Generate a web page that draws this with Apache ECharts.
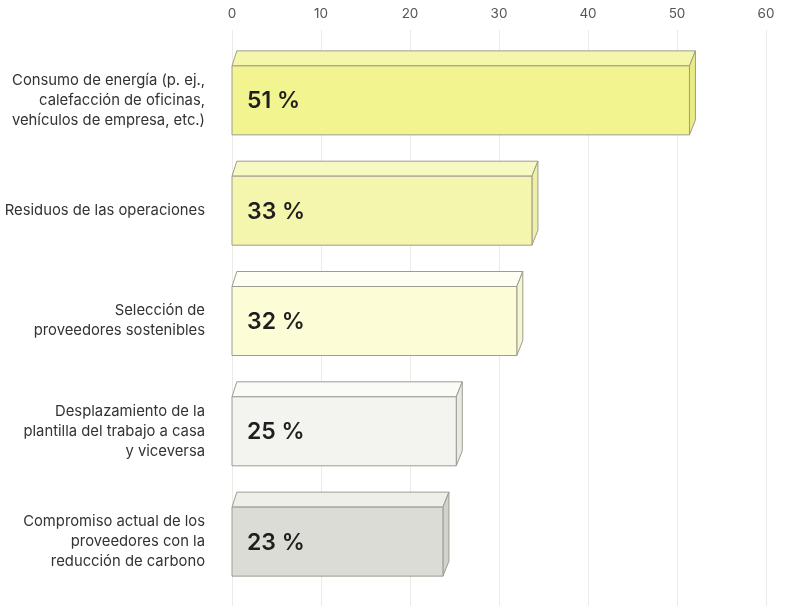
<!DOCTYPE html>
<html>
<head>
<meta charset="utf-8">
<script src="https://cdn.jsdelivr.net/npm/echarts@6/dist/echarts.min.js"></script>
<style>
html,body{margin:0;padding:0;background:#fff;}
#chart{width:804px;height:610px;}
</style>
</head>
<body>
<div id="chart"></div>
<script>
var categories = [
  "Consumo de energía (p. ej.,\ncalefacción de oficinas,\nvehículos de empresa, etc.)",
  "Residuos de las operaciones",
  "Selección de\nproveedores sostenibles",
  "Desplazamiento de la\nplantilla del trabajo a casa\ny viceversa",
  "Compromiso actual de los\nproveedores con la\nreducción de carbono"
];
var values = [51.4, 33.7, 32.0, 25.2, 23.7];
var valueLabels = ["51 %", "33 %", "32 %", "25 %", "23 %"];
var tickValues = [0, 10, 20, 30, 40, 50, 60];

var frontColors = ["#f1f48f", "#f4f6ad", "#fcfdd7", "#f3f3ef", "#dcdcd7"];
var topColors   = ["#f4f7ab", "#f7f9c3", "#fefef3", "#fafaf7", "#efefea"];
var sideColors  = ["#e8eb86", "#eef0a6", "#f6f7d0", "#eaeae5", "#d2d2cc"];

var chart = echarts.init(document.getElementById('chart'));
var BAR_H = 69, DX = 6, DY = -15;
var stroke = '#9c9c92';

function renderItem(params, api) {
  var idx = api.value(0);
  var val = api.value(1);
  var p0 = api.coord([0, idx]);
  var p1 = api.coord([val, idx]);
  var x0 = p0[0], x1 = p1[0], yc = p0[1];
  var yt = yc - BAR_H / 2, yb = yc + BAR_H / 2;
  var i = params.dataIndex;
  return {
    type: 'group',
    children: [
      {
        type: 'polygon',
        shape: {points: [[x0, yt], [x1, yt], [x1 + DX, yt + DY], [x0 + DX * 0.8, yt + DY]]},
        style: {fill: topColors[i], stroke: stroke, lineWidth: 1}
      },
      {
        type: 'polygon',
        shape: {points: [[x1, yt], [x1 + DX, yt + DY], [x1 + DX, yb + DY], [x1, yb]]},
        style: {fill: sideColors[i], stroke: stroke, lineWidth: 1}
      },
      {
        type: 'rect',
        shape: {x: x0, y: yt, width: x1 - x0, height: BAR_H},
        style: {fill: frontColors[i], stroke: stroke, lineWidth: 1}
      },
      {
        type: 'text',
        style: {
          x: x0 + 15, y: yc + 1,
          text: valueLabels[i],
          fill: '#1e1e1e',
          font: '600 23px Inter',
          verticalAlign: 'middle',
          align: 'left'
        }
      }
    ]
  };
}

var option = {
  backgroundColor: '#fff',
  animation: false,
  grid: [
    {left: 232, right: 38, top: 45.2, height: 551.6, containLabel: false},
    {left: 232, right: 38, top: 30, bottom: 4, containLabel: false}
  ],
  xAxis: [
    {gridIndex: 0, type: 'value', min: 0, max: 60, show: false},
    {
      gridIndex: 1, type: 'value', min: 0, max: 60, interval: 10, position: 'top',
      axisLine: {show: false}, axisTick: {show: false},
      axisLabel: {
        color: '#555', fontSize: 13.5, fontFamily: 'Inter', margin: 9,
        formatter: function (v) { return tickValues.indexOf(v) >= 0 ? String(v) : ''; }
      },
      splitLine: {show: true, lineStyle: {color: '#ebebe8', width: 1}}
    }
  ],
  yAxis: [
    {
      gridIndex: 0, type: 'category', data: categories, inverse: true,
      axisLine: {show: false}, axisTick: {show: false},
      axisLabel: {
        color: '#333', fontSize: 14.8, fontFamily: 'Inter', lineHeight: 20,
        margin: 27, align: 'right'
      },
      splitLine: {show: false}
    },
    {gridIndex: 1, type: 'value', show: false, min: 0, max: 1}
  ],
  series: [
    {
      type: 'custom',
      xAxisIndex: 0, yAxisIndex: 0,
      renderItem: renderItem,
      encode: {x: 1, y: 0},
      data: values.map(function (v, i) { return [i, v]; })
    }
  ]
};
chart.setOption(option);
</script>
</body>
</html>
